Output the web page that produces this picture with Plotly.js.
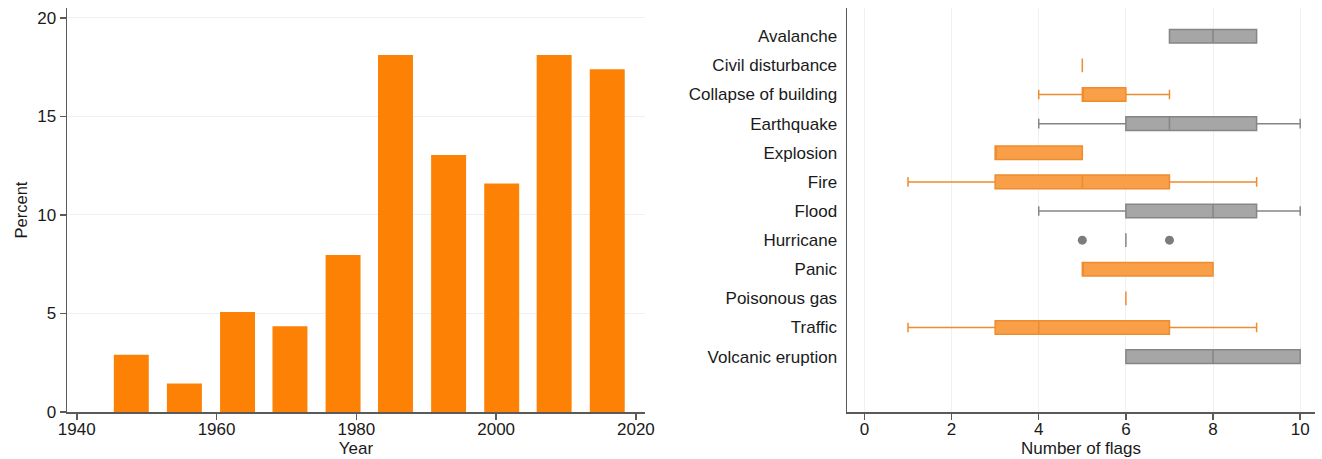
<!DOCTYPE html>
<html>
<head>
<meta charset="utf-8">
<script src="https://cdn.plot.ly/plotly-3.0.1.min.js"></script>
<style>
  html, body { margin: 0; padding: 0; background: #ffffff; }
  #chart { width: 1322px; height: 459px; }
</style>
</head>
<body>
<div id="chart"></div>
<script>
// Histogram of events by year (bin centres, percent of events)
const binCentres = [1947.8, 1955.4, 1963.0, 1970.5, 1978.1, 1985.6, 1993.2, 2000.8, 2008.3, 2015.9];
const percent = [2.90, 1.45, 5.07, 4.35, 7.97, 18.12, 13.04, 11.59, 18.12, 17.39];
const yearTicks = [1940, 1960, 1980, 2000, 2020];
const percentTicks = [0, 5, 10, 15, 20];

// Number of flags per event type
const eventTypes = ['Avalanche', 'Civil disturbance', 'Collapse of building', 'Earthquake',
  'Explosion', 'Fire', 'Flood', 'Hurricane', 'Panic', 'Poisonous gas', 'Traffic', 'Volcanic eruption'];

// Man-made events
const manMade = ['Civil disturbance', 'Collapse of building', 'Explosion', 'Fire', 'Panic', 'Poisonous gas', 'Traffic'];
const manMin = [5, 4, 3, 1, 5, 6, 1];
const manQ1 = [5, 5, 3, 3, 5, 6, 3];
const manMed = [5, 5, 3, 5, 5, 6, 4];
const manQ3 = [5, 6, 5, 7, 8, 6, 7];
const manMax = [5, 7, 5, 9, 8, 6, 9];

// Natural events
const natural = ['Avalanche', 'Earthquake', 'Flood', 'Hurricane', 'Volcanic eruption'];
const natMin = [7, 4, 4, 6, 6];
const natQ1 = [7, 6, 6, 6, 6];
const natMed = [8, 7, 8, 6, 8];
const natQ3 = [9, 9, 9, 6, 10];
const natMax = [9, 10, 10, 6, 10];

// Outlying values
const outlierType = ['Hurricane', 'Hurricane'];
const outlierFlags = [5, 7];
const flagTicks = [0, 2, 4, 6, 8, 10];

const FONT = 'Liberation Sans, Arial, sans-serif';
const AXIS = '#5a5a5a';
const GRID = '#eef1f3';
const TEXT = '#1a1a1a';

const traces = [
  {
    type: 'bar', x: binCentres, y: percent, width: 5,
    marker: { color: '#fd8104', line: { width: 0 } },
    xaxis: 'x', yaxis: 'y', hoverinfo: 'x+y'
  },
  {
    type: 'box', orientation: 'h', y: manMade,
    q1: manQ1, median: manMed, q3: manQ3, lowerfence: manMin, upperfence: manMax,
    width: 0.47, whiskerwidth: 0.7,
    fillcolor: '#f99f48', line: { color: '#ee8c30', width: 1.5 },
    boxpoints: false, xaxis: 'x2', yaxis: 'y2'
  },
  {
    type: 'box', orientation: 'h', y: natural,
    q1: natQ1, median: natMed, q3: natQ3, lowerfence: natMin, upperfence: natMax,
    width: 0.47, whiskerwidth: 0.7,
    fillcolor: '#a6a6a6', line: { color: '#858585', width: 1.5 },
    boxpoints: false, xaxis: 'x2', yaxis: 'y2'
  },
  {
    type: 'scatter', mode: 'markers', x: outlierFlags, y: outlierType,
    marker: { color: '#7c7c7c', size: 9 },
    xaxis: 'x2', yaxis: 'y2'
  }
];

const tickFont = { family: FONT, size: 17, color: TEXT };
const titleFont = { family: FONT, size: 17, color: TEXT };

const layout = {
  width: 1322, height: 459,
  margin: { l: 0, r: 0, t: 0, b: 0 },
  paper_bgcolor: '#ffffff', plot_bgcolor: '#ffffff',
  showlegend: false,
  font: { family: FONT, size: 17, color: TEXT },
  boxmode: 'overlay',
  xaxis: {
    domain: [67 / 1322, 645 / 1322], anchor: 'y',
    range: [1938.6, 2021.3], tickvals: yearTicks,
    showgrid: false, zeroline: false,
    showline: true, linecolor: AXIS, linewidth: 1.5,
    ticks: 'outside', ticklen: 6, tickcolor: AXIS, tickwidth: 1.5,
    ticklabelstandoff: -5,
    tickfont: tickFont,
    title: { text: 'Year', font: titleFont, standoff: 0 }
  },
  yaxis: {
    domain: [47 / 459, 451 / 459], anchor: 'x',
    range: [0, 20.5], tickvals: percentTicks,
    showgrid: true, gridcolor: GRID, gridwidth: 1, zeroline: false,
    showline: true, linecolor: AXIS, linewidth: 1.5,
    ticks: 'outside', ticklen: 6, tickcolor: AXIS, tickwidth: 1.5,
    tickfont: tickFont,
    title: { text: 'Percent', font: { family: FONT, size: 16.5, color: TEXT }, standoff: 5 }
  },
  xaxis2: {
    domain: [847 / 1322, 1315 / 1322], anchor: 'y2',
    range: [-0.4, 10.34], tickvals: flagTicks,
    showgrid: true, gridcolor: GRID, gridwidth: 1, zeroline: false,
    showline: true, linecolor: AXIS, linewidth: 1.5,
    ticks: 'outside', ticklen: 6, tickcolor: AXIS, tickwidth: 1.5,
    ticklabelstandoff: -5,
    tickfont: tickFont,
    title: { text: 'Number of flags', font: titleFont, standoff: 0 }
  },
  yaxis2: {
    domain: [47 / 459, 451 / 459], anchor: 'x2',
    type: 'category', categoryorder: 'array', categoryarray: eventTypes,
    range: [12.9, -0.97],
    showgrid: false, zeroline: false,
    showline: true, linecolor: AXIS, linewidth: 1.5,
    ticks: '', ticklabelstandoff: 5,
    tickfont: tickFont
  }
};

Plotly.newPlot('chart', traces, layout, { displayModeBar: false, staticPlot: true });
</script>
</body>
</html>
